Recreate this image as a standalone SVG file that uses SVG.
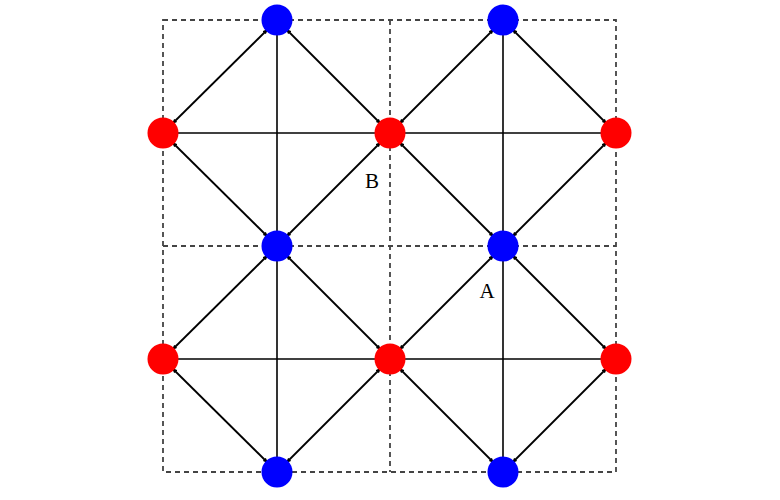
<svg xmlns="http://www.w3.org/2000/svg" width="780" height="500" viewBox="0 0 780 500">
<defs>
<style>
.grid{fill:none;stroke:#444;stroke-width:1.8;stroke-dasharray:5 4}
.edge{stroke:#000;stroke-width:1.6;fill:none}
.diag{stroke:#000;stroke-width:1.8;fill:none;marker-start:url(#ah);marker-end:url(#ah)}
.red{fill:#ff0000}
.blue{fill:#0000ff}
.lbl{font-family:"Liberation Serif",serif;font-size:21px;fill:#000}
</style>
<marker id="ah" viewBox="0 0 10 10" refX="7" refY="5" markerWidth="3" markerHeight="3" orient="auto-start-reverse" markerUnits="strokeWidth">
<path d="M0,1 L10,5 L0,9 z" fill="#000"/>
</marker>
</defs>
<rect width="780" height="500" fill="#fff"/>
<g id="grid">
<rect class="grid" x="163" y="20" width="453" height="452"/>
<line class="grid" x1="390" y1="20" x2="390" y2="472"/>
<line class="grid" x1="163" y1="246" x2="616" y2="246"/>
</g>
<g id="connectors">
<line class="edge" x1="163" y1="133" x2="616" y2="133"/>
<line class="edge" x1="163" y1="359" x2="616" y2="359"/>
<line class="edge" x1="277" y1="20" x2="277" y2="472"/>
<line class="edge" x1="503" y1="20" x2="503" y2="472"/>
<line class="diag" x1="173" y1="123" x2="267" y2="30"/>
<line class="diag" x1="287" y1="30" x2="380" y2="123"/>
<line class="diag" x1="173" y1="143" x2="267" y2="236"/>
<line class="diag" x1="380" y1="143" x2="287" y2="236"/>
<line class="diag" x1="400" y1="123" x2="493" y2="30"/>
<line class="diag" x1="513" y1="30" x2="606" y2="123"/>
<line class="diag" x1="400" y1="143" x2="493" y2="236"/>
<line class="diag" x1="606" y1="143" x2="513" y2="236"/>
<line class="diag" x1="267" y1="256" x2="173" y2="349"/>
<line class="diag" x1="287" y1="256" x2="380" y2="349"/>
<line class="diag" x1="173" y1="369" x2="267" y2="462"/>
<line class="diag" x1="380" y1="369" x2="287" y2="462"/>
<line class="diag" x1="493" y1="256" x2="400" y2="349"/>
<line class="diag" x1="513" y1="256" x2="606" y2="349"/>
<line class="diag" x1="400" y1="369" x2="493" y2="462"/>
<line class="diag" x1="606" y1="369" x2="513" y2="462"/>
</g>
<g id="node-b1"><circle class="blue" cx="277" cy="20" r="15.5"/></g>
<g id="node-b2"><circle class="blue" cx="503" cy="20" r="15.5"/></g>
<g id="node-b3"><circle class="blue" cx="277" cy="246" r="15.5"/></g>
<g id="node-b4"><circle class="blue" cx="503" cy="246" r="15.5"/></g>
<g id="node-b5"><circle class="blue" cx="277" cy="472" r="15.5"/></g>
<g id="node-b6"><circle class="blue" cx="503" cy="472" r="15.5"/></g>
<g id="node-r1"><circle class="red" cx="163" cy="133" r="15.5"/></g>
<g id="node-r2"><circle class="red" cx="390" cy="133" r="15.5"/></g>
<g id="node-r3"><circle class="red" cx="616" cy="133" r="15.5"/></g>
<g id="node-r4"><circle class="red" cx="163" cy="359" r="15.5"/></g>
<g id="node-r5"><circle class="red" cx="390" cy="359" r="15.5"/></g>
<g id="node-r6"><circle class="red" cx="616" cy="359" r="15.5"/></g>
<g id="labels">
<text class="lbl" x="372" y="188" text-anchor="middle">B</text>
<text class="lbl" x="487" y="298" text-anchor="middle">A</text>
</g>
</svg>
